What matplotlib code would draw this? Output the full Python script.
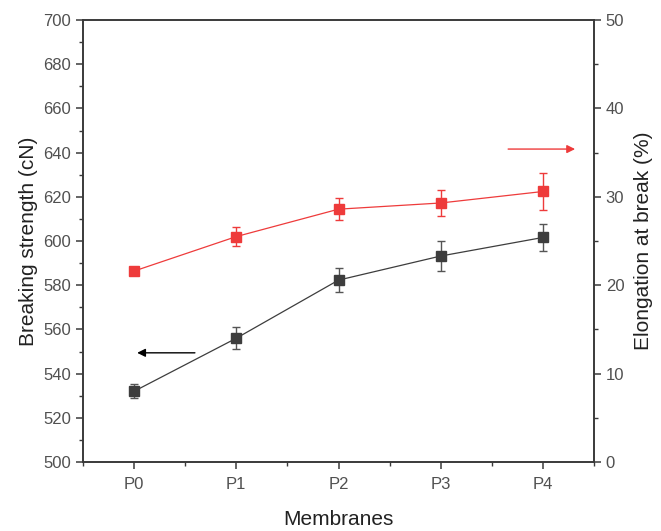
import matplotlib
matplotlib.use("Agg")
import matplotlib.pyplot as plt
from matplotlib.ticker import MultipleLocator

plt.rcParams['font.family'] = ['Liberation Sans', 'DejaVu Sans']

membranes = ["P0", "P1", "P2", "P3", "P4"]
strength = [532.0, 556.0, 582.3, 593.2, 601.6]
strength_err = [3.1, 4.9, 5.4, 6.6, 6.3]
elongation = [21.6, 25.5, 28.6, 29.3, 30.6]
elongation_err = [0.5, 1.1, 1.25, 1.45, 2.1]

black = "#3d3d3d"
red = "#ee3b3b"
text_c = "#505050"
spine_c = "#3a3a3a"

fig = plt.figure(figsize=(6.61, 5.31), dpi=100)
ax = fig.add_axes([83/661, 1 - 462/531, 511/661, 442/531])
ax2 = ax.twinx()

x = list(range(len(membranes)))
ax.errorbar(x, strength, yerr=strength_err, color=black, ecolor="#555555",
            elinewidth=1.0, capsize=3, capthick=1.0, marker="s", markersize=7.5,
            linewidth=0.9, zorder=3)
ax2.errorbar(x, elongation, yerr=elongation_err, color=red, ecolor=red,
             elinewidth=1.0, capsize=3, capthick=1.0, marker="s", markersize=7.5,
             linewidth=0.9, zorder=3)

ax.set_xlim(-0.5, 4.5)
ax.set_ylim(500, 700)
ax2.set_ylim(0, 50)
ax.set_xticks(x)
ax.set_xticklabels(membranes)
ax.xaxis.set_minor_locator(MultipleLocator(0.5))
ax.yaxis.set_major_locator(MultipleLocator(20))
ax.yaxis.set_minor_locator(MultipleLocator(10))
ax2.yaxis.set_major_locator(MultipleLocator(10))
ax2.yaxis.set_minor_locator(MultipleLocator(5))

for a in (ax, ax2):
    for s in a.spines.values():
        s.set_color(spine_c)
        s.set_linewidth(1.2)
    a.tick_params(which="major", length=5, width=1.1, color=spine_c,
                  labelsize=12, labelcolor=text_c, direction="out")
    a.tick_params(which="minor", length=3, width=1.0, color=spine_c, direction="out")
ax.tick_params(axis="x", which="both", top=False)
ax.tick_params(axis="x", pad=6)

ax.set_xlabel("Membranes", fontsize=15, color="#222222", labelpad=13)
ax.set_ylabel("Breaking strength (cN)", fontsize=15, color="#222222", labelpad=4)
ax2.set_ylabel("Elongation at break (%)", fontsize=15, color="#222222", labelpad=7)

ax.annotate("", xy=(0.106, 0.247), xytext=(0.219, 0.247), xycoords="axes fraction",
            arrowprops=dict(arrowstyle="-|>", color="black", lw=1.0,
                            mutation_scale=12, shrinkA=0, shrinkB=0))
ax.annotate("", xy=(0.963, 0.708), xytext=(0.832, 0.708), xycoords="axes fraction",
            arrowprops=dict(arrowstyle="-|>", color=red, lw=1.0,
                            mutation_scale=12, shrinkA=0, shrinkB=0))

fig.savefig("out.png", dpi=100)
